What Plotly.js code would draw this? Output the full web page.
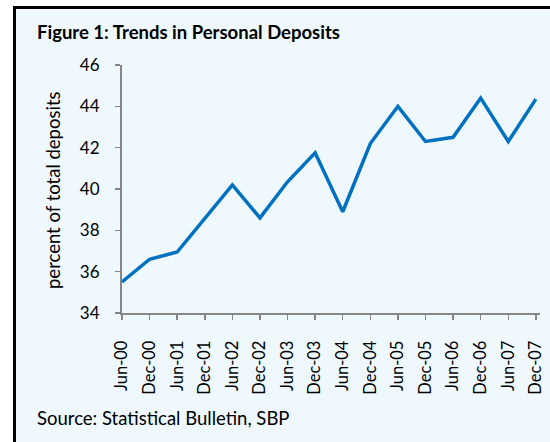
<!DOCTYPE html>
<html>
<head>
<meta charset="utf-8">
<script src="https://cdn.plot.ly/plotly-3.0.1.min.js"></script>
<style>
  html, body { margin: 0; padding: 0; background: #ffffff; width: 550px; height: 442px; overflow: hidden; }
  #chart { position: absolute; left: 13px; top: 6px; width: 534px; height: 433px;
           border-left: 3px solid #000; border-top: 3px solid #000; background: #eef8fd; }
</style>
</head>
<body>
<div id="chart"></div>
<script>
const periods = ["Jun-00","Dec-00","Jun-01","Dec-01","Jun-02","Dec-02","Jun-03","Dec-03",
                 "Jun-04","Dec-04","Jun-05","Dec-05","Jun-06","Dec-06","Jun-07","Dec-07"];
const personalShare = [35.5, 36.6, 36.95, 38.6, 40.2, 38.6, 40.35, 41.75,
                       38.9, 42.2, 44.0, 42.3, 42.5, 44.4, 42.3, 44.35];
const yTicks = [34, 36, 38, 40, 42, 44, 46];

const FONT = "Lato, 'Open Sans', sans-serif";
const AXIS = "#868686";

const trace = {
  x: periods.map((_, i) => i),
  y: personalShare,
  type: "scatter",
  mode: "lines",
  line: { color: "#0070c0", width: 3.5 },
  cliponaxis: false,
  hoverinfo: "skip"
};

const layout = {
  width: 534, height: 433,
  margin: { l: 106, r: 10, t: 56, b: 129, pad: 0 },
  paper_bgcolor: "#eef8fd",
  plot_bgcolor: "#eef8fd",
  showlegend: false,
  font: { family: FONT, color: "#000", size: 17 },
  xaxis: {
    range: [0, 15.15],
    tickmode: "array",
    tickvals: periods.map((_, i) => i),
    ticktext: periods,
    tickangle: -90,
    ticks: "outside", ticklen: 5, tickcolor: AXIS, tickwidth: 1.5,
    showline: true, linecolor: AXIS, linewidth: 2,
    showgrid: false, zeroline: false,
    ticklabelstandoff: 14,
    tickfont: { family: FONT, size: 16.5, color: "#000" },
    fixedrange: true
  },
  yaxis: {
    range: [34, 46],
    tickmode: "array",
    tickvals: yTicks,
    ticktext: yTicks.map(String),
    ticks: "outside", ticklen: 5, tickcolor: AXIS, tickwidth: 1.5,
    showline: true, linecolor: AXIS, linewidth: 2,
    showgrid: false, zeroline: false,
    ticklabelstandoff: 12,
    tickfont: { family: FONT, size: 17, color: "#000" },
    fixedrange: true
  },
  annotations: [
    { text: "<b>Figure 1: Trends in Personal Deposits</b>", xref: "paper", yref: "paper",
      x: (35 - 122) / 418, y: (313 - 32) / 248, xanchor: "left", yanchor: "middle",
      showarrow: false, font: { family: FONT, size: 18.5, color: "#000" } },
    { text: "percent of total deposits", xref: "paper", yref: "paper",
      x: (53 - 122) / 418, y: (313 - 190) / 248, xanchor: "center", yanchor: "middle",
      textangle: -90, showarrow: false, font: { family: FONT, size: 18.5, color: "#000" } },
    { text: "Source: Statistical Bulletin, SBP", xref: "paper", yref: "paper",
      x: (35 - 122) / 418, y: (313 - 418) / 248, xanchor: "left", yanchor: "middle",
      showarrow: false, font: { family: FONT, size: 18.5, color: "#000" } }
  ]
};

Plotly.newPlot("chart", [trace], layout, { staticPlot: true, displayModeBar: false });
</script>
</body>
</html>
